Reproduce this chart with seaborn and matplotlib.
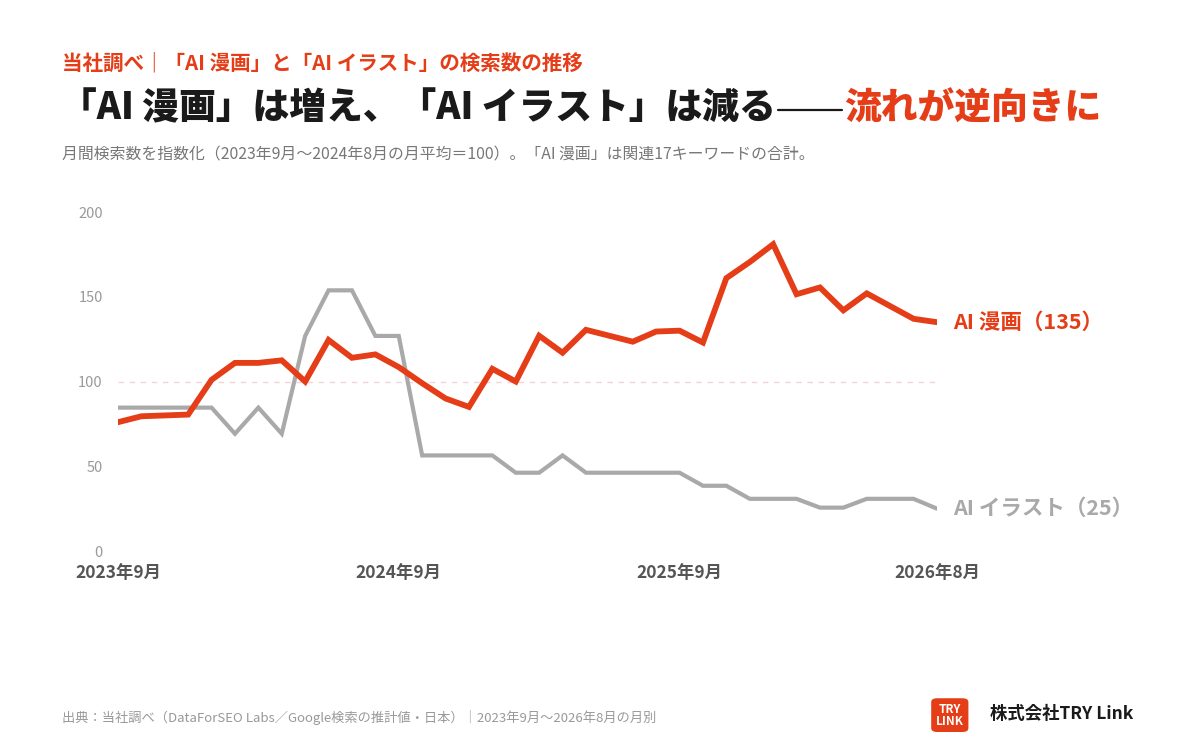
import numpy as np
import pandas as pd
import seaborn as sns
import matplotlib.pyplot as plt
from matplotlib.patches import FancyBboxPatch
from matplotlib.lines import Line2D

sns.set_theme(style="white")
plt.rcParams['font.family'] = ['Noto Sans CJK JP', 'DejaVu Sans']

RED = '#E43D17'
GRAY = '#A9A9A9'

months = pd.period_range('2023-09', '2026-08', freq='M').strftime('%Y-%m').tolist()
manga = [76, 79.5, 80, 80.5, 101, 111, 111, 112.5, 100, 124.5, 114, 116, 108.5, 99, 90, 85,
         107.5, 100, 127, 117, 130.5, 127, 123.5, 129.5, 130, 123, 161, 170.5, 181, 151.5,
         155.5, 142, 152, 144.5, 137, 135]
illust = [84.6, 84.6, 84.6, 84.6, 84.6, 69.2, 84.6, 69.2, 126.9, 153.8, 153.8, 126.9, 126.9,
          56.4, 56.4, 56.4, 56.4, 46.2, 46.2, 56.4, 46.2, 46.2, 46.2, 46.2, 46.2, 38.5, 38.5,
          30.8, 30.8, 30.8, 25.6, 25.6, 30.8, 30.8, 30.8, 25]
tick_pos = [0, 12, 24, 35]
tick_labels = ['2023年9月', '2024年9月', '2025年9月', '2026年8月']

df = pd.DataFrame({'idx': range(len(months)), 'month': months,
                   'AI 漫画': manga, 'AI イラスト': illust})
long_df = df.melt(id_vars=['idx', 'month'], var_name='series', value_name='value')

fig = plt.figure(figsize=(12, 7.5), dpi=100)
fig.patch.set_facecolor('white')
ax = fig.add_axes([0.0983, 0.2653, 0.6825, 0.452])

ax.axhline(100, color='#F0D4DA', lw=1, ls=(0, (4, 4)), zorder=0)
sns.lineplot(data=long_df, x='idx', y='value', hue='series',
             palette={'AI 漫画': RED, 'AI イラスト': GRAY},
             hue_order=['AI イラスト', 'AI 漫画'], ax=ax, legend=False)
for line, lw in zip(ax.get_lines()[1:], [3, 4.2]):
    line.set_linewidth(lw)
    line.set_solid_joinstyle('miter')

ax.set_xlim(0, 35)
ax.set_ylim(0, 200)
ax.set_yticks([0, 50, 100, 150, 200])
ax.tick_params(axis='y', colors='#9A9A9A', labelsize=10.5, length=0, pad=11)
ax.set_xticks(tick_pos)
ax.set_xticklabels(tick_labels, fontsize=12.5, fontweight='bold', color='#555555')
ax.tick_params(axis='x', length=0, pad=9)
ax.set_xlabel('')
ax.set_ylabel('')
sns.despine(ax=ax, left=True, bottom=True)

# end labels
ax.text(35.7, manga[-1], f'AI 漫画（{manga[-1]:.0f}）', color=RED, fontsize=15.5,
        fontweight='bold', va='center', ha='left', clip_on=False)
ax.text(35.7, illust[-1], f'AI イラスト（{illust[-1]:.0f}）', color=GRAY, fontsize=15.5,
        fontweight='bold', va='center', ha='left', clip_on=False)

# titles
fig.text(0.052, 0.916, '当社調べ｜「AI 漫画」と「AI イラスト」の検索数の推移',
         color=RED, fontsize=14.8, fontweight='bold', va='center')
t1 = fig.text(0.05, 0.855, '「AI 漫画」は増え、「AI イラスト」は減る',
              color='#1A1A1A', fontsize=26.5, fontweight='black', va='center')
fig.canvas.draw()
inv = fig.transFigure.inverted()
bb = t1.get_window_extent().transformed(inv)
dash_w = 66 / 1200
fig.add_artist(Line2D([bb.x1 + 0.002, bb.x1 + dash_w], [0.853, 0.853],
                      color='#1A1A1A', lw=1.6, transform=fig.transFigure))
fig.text(bb.x1 + dash_w + 0.002, 0.855, '流れが逆向きに', color=RED, fontsize=26.5,
         fontweight='black', va='center')
fig.text(0.052, 0.793,
         '月間検索数を指数化（2023年9月〜2024年8月の月平均＝100）。「AI 漫画」は関連17キーワードの合計。',
         color='#777777', fontsize=11.4, va='center')

# footer
fig.text(0.052, 0.043,
         '出典：当社調べ（DataForSEO Labs／Google検索の推計値・日本）｜2023年9月〜2026年8月の月別',
         color='#999999', fontsize=9.5, va='center')
logo = FancyBboxPatch((0.776, 0.024), 0.031, 0.045, boxstyle='round,pad=0,rounding_size=0.005',
                      transform=fig.transFigure, facecolor=RED, edgecolor='none')
fig.patches.append(logo)
fig.text(0.7915, 0.0465, 'TRY\nLINK', color='white', fontsize=8.5, fontweight='bold',
         ha='center', va='center', linespacing=0.9)
fig.text(0.825, 0.048, '株式会社TRY Link', color='#1A1A1A', fontsize=12.5,
         fontweight='bold', va='center')

fig.savefig('out.png', dpi=100, facecolor='white')
